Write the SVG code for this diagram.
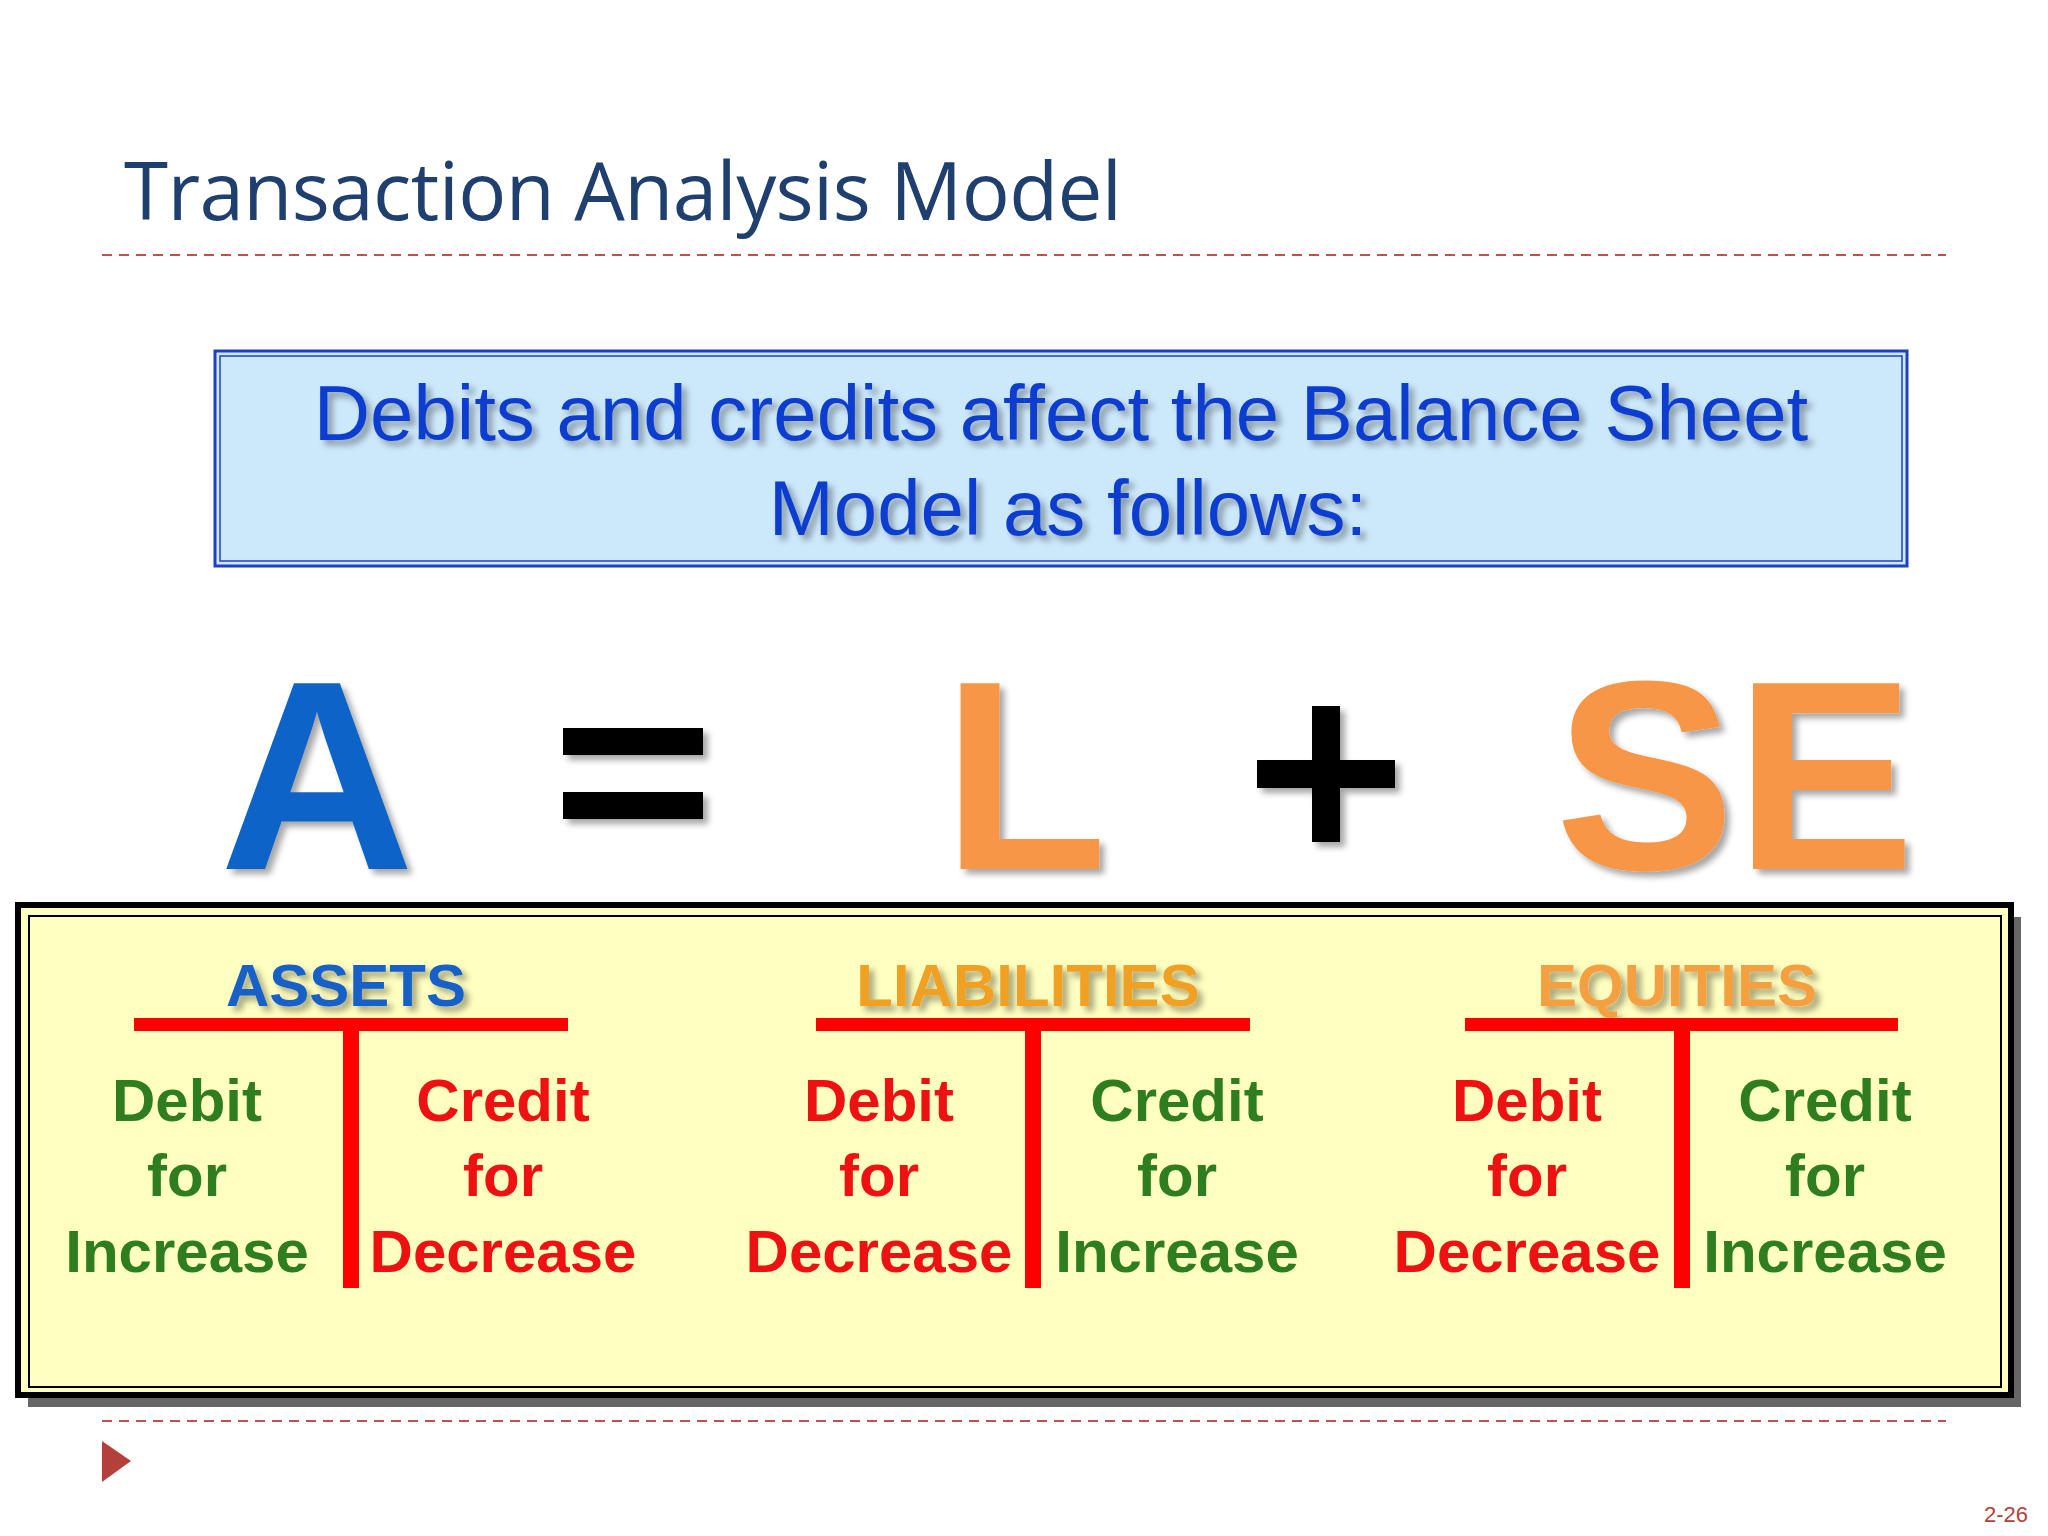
<svg xmlns="http://www.w3.org/2000/svg" width="2048" height="1536" viewBox="0 0 2048 1536">
<defs>
<filter id="sh" x="-10%" y="-10%" width="130%" height="130%"><feDropShadow dx="5" dy="5" stdDeviation="3" flood-color="#000" flood-opacity="0.35"/></filter>
</defs>
<style>
.b{font-family:"Liberation Sans",Arial,sans-serif;font-weight:bold;text-anchor:middle}
.t{font-size:60px}
.g{fill:#2e7d1f}.r{fill:#ee1111}
.bar{fill:#ff0000}
.dash{stroke:#c0504d;stroke-width:2;stroke-dasharray:10 7}
</style>
<rect width="2048" height="1536" fill="#ffffff"/>
<text x="124" y="220" font-family="'Open Sans','Noto Sans',sans-serif" font-size="80" fill="#1f3f6e" textLength="998">Transaction Analysis Model</text>
<line class="dash" x1="102" y1="255" x2="1946" y2="255"/>
<g id="banner">
<rect x="215" y="351" width="1692" height="215" fill="#cce8fb" stroke="#1f3fc4" stroke-width="3"/>
<rect x="220" y="356" width="1682" height="205" fill="none" stroke="#1f3fc4" stroke-width="1.5"/>
<g class="b" style="font-weight:normal" font-size="78" fill="#0b3ecf" filter="url(#sh)">
<text x="1061" y="440">Debits and credits affect the Balance Sheet</text>
<text x="1068" y="535">Model as follows:</text>
</g>
</g>
<g id="equation" class="b" filter="url(#sh)">
<text x="317" y="869" font-size="270" fill="#0a64c8">A</text>
<rect x="563" y="728" width="140" height="27" fill="#000"/>
<rect x="563" y="792" width="140" height="27" fill="#000"/>
<text x="1025" y="869" font-size="270" fill="#f79646">L</text>
<rect x="1257" y="760" width="138" height="28" fill="#000"/>
<rect x="1312" y="706" width="28" height="136" fill="#000"/>
<text x="1735" y="869" font-size="270" fill="#f79646">SE</text>
</g>
<g id="tbox">
<rect x="28" y="917" width="1993" height="490" fill="#666"/>
<rect x="18" y="905" width="1993" height="490" fill="#ffffc0" stroke="#000" stroke-width="6"/>
<rect x="29" y="916" width="1972" height="471" fill="none" stroke="#000" stroke-width="2"/>
</g>
<g id="assets">
<text class="b" x="346" y="1006" font-size="60" fill="#1560c8" filter="url(#sh)">ASSETS</text>
<rect class="bar" x="134" y="1018" width="434" height="13"/>
<rect class="bar" x="343" y="1024" width="16" height="264"/>
<g class="b t g"><text x="187" y="1121">Debit</text><text x="187" y="1196">for</text><text x="187" y="1272">Increase</text></g>
<g class="b t r"><text x="503" y="1121">Credit</text><text x="503" y="1196">for</text><text x="503" y="1272">Decrease</text></g>
</g>
<g id="liabilities">
<text class="b" x="1028" y="1006" font-size="60" fill="#f0a020" filter="url(#sh)">LIABILITIES</text>
<rect class="bar" x="816" y="1018" width="434" height="13"/>
<rect class="bar" x="1025" y="1024" width="16" height="264"/>
<g class="b t r"><text x="879" y="1121">Debit</text><text x="879" y="1196">for</text><text x="879" y="1272">Decrease</text></g>
<g class="b t g"><text x="1177" y="1121">Credit</text><text x="1177" y="1196">for</text><text x="1177" y="1272">Increase</text></g>
</g>
<g id="equities">
<text class="b" x="1677" y="1006" font-size="60" fill="#f4a040" filter="url(#sh)">EQUITIES</text>
<rect class="bar" x="1465" y="1018" width="433" height="13"/>
<rect class="bar" x="1674" y="1024" width="16" height="264"/>
<g class="b t r"><text x="1527" y="1121">Debit</text><text x="1527" y="1196">for</text><text x="1527" y="1272">Decrease</text></g>
<g class="b t g"><text x="1825" y="1121">Credit</text><text x="1825" y="1196">for</text><text x="1825" y="1272">Increase</text></g>
</g>
<line class="dash" x1="102" y1="1421" x2="1946" y2="1421"/>
<polygon points="102,1441 131,1461 102,1482" fill="#b5403a"/>
<text x="2028" y="1522" font-family="'Liberation Sans',sans-serif" font-size="22" fill="#b5403a" text-anchor="end">2-26</text>
</svg>
